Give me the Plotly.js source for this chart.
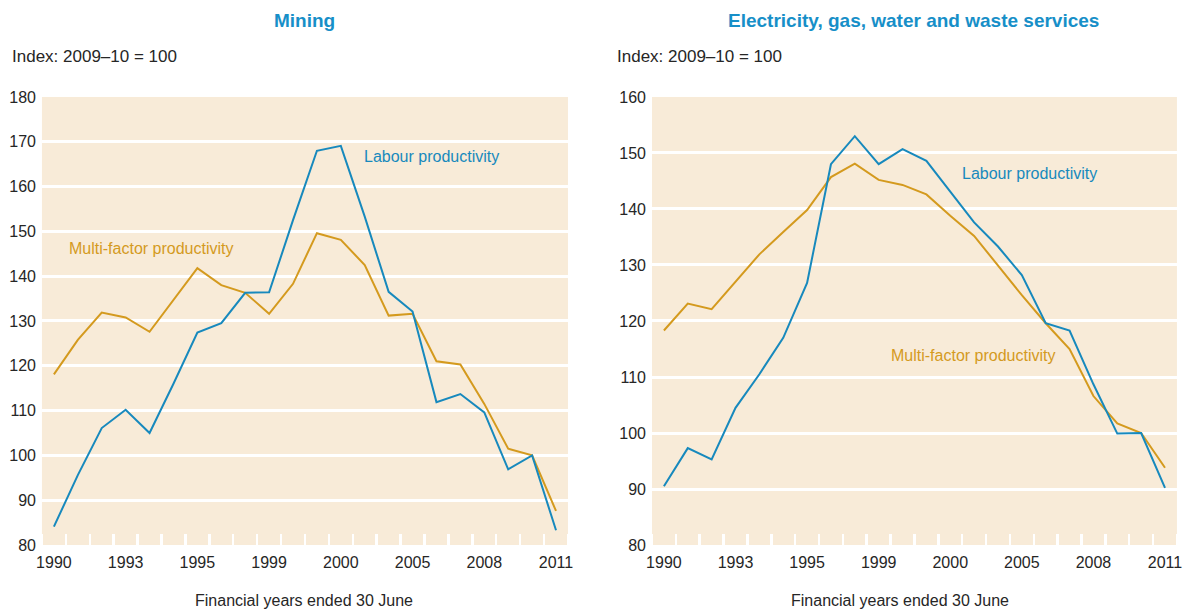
<!DOCTYPE html>
<html>
<head>
<meta charset="utf-8">
<script src="https://cdn.plot.ly/plotly-3.0.1.min.js"></script>
<style>
html,body{margin:0;padding:0;background:#fff;}
#chart{width:1185px;height:613px;}
</style>
</head>
<body>
<div id="chart"></div>
<script>
// Financial years ended 30 June (1989-90 ... 2010-11)
const years = [1990,1991,1992,1993,1994,1995,1996,1997,1998,1999,2000,2001,2002,2003,2004,2005,2006,2007,2008,2009,2010,2011];
// Tick labels as printed on the original chart
const tickYears = [1990,1993,1996,1999,2002,2005,2008,2011];
const tickLabels = ['1990','1993','1995','1999','2000','2005','2008','2011'];

// Mining (Index: 2009-10 = 100)
const miningLabour = [84.1,95.6,106.1,110.2,105.0,116.0,127.4,129.5,136.3,136.4,152.5,168.0,169.1,153.3,136.5,132.1,111.9,113.7,109.6,96.9,100.0,83.3];
const miningMFP    = [118.1,125.8,131.9,130.8,127.6,134.8,141.8,138.0,136.3,131.6,138.3,149.6,148.1,142.5,131.2,131.6,121.0,120.3,111.5,101.5,100.0,87.6];

// Electricity, gas, water and waste services (Index: 2009-10 = 100)
const elecLabour = [90.5,97.3,95.3,104.5,110.5,117.0,126.8,148.0,153.0,148.0,150.7,148.6,143.1,137.6,133.3,128.2,119.6,118.3,108.7,99.9,100.0,90.2];
const elecMFP    = [118.3,123.1,122.1,127.1,131.9,135.9,139.8,145.7,148.1,145.2,144.3,142.6,138.8,135.2,129.8,124.6,119.6,115.0,106.6,101.7,100.0,93.8];

const BLUE = '#1789bd';
const ORANGE = '#d49a1e';
const TITLEBLUE = '#178fc8';
const TEXT = '#262626';
const BG = '#f8ebd8';
const FONT = '"Liberation Sans", Arial, sans-serif';

function line(x, y, color, xa, ya, name) {
  return {x: x, y: y, type: 'scatter', mode: 'lines', name: name,
          line: {color: color, width: 2}, xaxis: xa, yaxis: ya, hoverinfo: 'x+y'};
}

const traces = [
  line(years, miningMFP, ORANGE, 'x', 'y', 'Multi-factor productivity'),
  line(years, miningLabour, BLUE, 'x', 'y', 'Labour productivity'),
  line(years, elecMFP, ORANGE, 'x2', 'y2', 'Multi-factor productivity'),
  line(years, elecLabour, BLUE, 'x2', 'y2', 'Labour productivity')
];

function xax(domain, anchor) {
  return {
    domain: domain, anchor: anchor, range: [1989.5, 2011.5],
    tickmode: 'array', tickvals: tickYears, ticktext: tickLabels,
    ticks: '', showgrid: false, zeroline: false, showline: false,
    tickfont: {family: FONT, size: 16, color: TEXT},
    ticklabelstandoff: 6, ticklabeloverflow: 'allow',
    minor: {tick0: 1989.5, dtick: 1, ticks: 'inside', ticklen: 11, tickwidth: 2.5, tickcolor: '#ffffff', showgrid: false}
  };
}
function yax(domain, anchor, range, dtick) {
  return {
    domain: domain, anchor: anchor, range: range, dtick: dtick, tick0: 0,
    showgrid: true, gridcolor: '#ffffff', gridwidth: 3, zeroline: false, showline: false,
    ticks: '', tickfont: {family: FONT, size: 16, color: TEXT}, ticklabelstandoff: 5,
    ticklabeloverflow: 'allow'
  };
}

const layout = {
  width: 1185, height: 613,
  margin: {l: 0, r: 0, t: 0, b: 0},
  paper_bgcolor: '#ffffff', plot_bgcolor: BG,
  showlegend: false,
  xaxis: xax([0.0354, 0.4793], 'y'),
  yaxis: yax([0.1109, 0.8418], 'x', [80, 180], 10),
  xaxis2: xax([0.5502, 0.9932], 'y2'),
  yaxis2: yax([0.1109, 0.8418], 'x2', [80, 160], 10),
  annotations: [
    {text: '<b>Mining</b>', xref: 'paper', yref: 'paper', x: 304/1185, y: 1 - 20/613, xanchor: 'center', yanchor: 'middle', showarrow: false, font: {family: FONT, size: 19, color: TITLEBLUE}},
    {text: '<b>Electricity, gas, water and waste services</b>', xref: 'paper', yref: 'paper', x: 913/1185, y: 1 - 20/613, xanchor: 'center', yanchor: 'middle', showarrow: false, font: {family: FONT, size: 19, color: TITLEBLUE}},
    {text: 'Index: 2009–10 = 100', xref: 'paper', yref: 'paper', x: 10/1185, y: 1 - 57/613, xanchor: 'left', yanchor: 'middle', showarrow: false, font: {family: FONT, size: 17, color: TEXT}},
    {text: 'Index: 2009–10 = 100', xref: 'paper', yref: 'paper', x: 615/1185, y: 1 - 57/613, xanchor: 'left', yanchor: 'middle', showarrow: false, font: {family: FONT, size: 17, color: TEXT}},
    {text: 'Financial years ended 30 June', xref: 'paper', yref: 'paper', x: 304/1185, y: 1 - 600/613, xanchor: 'center', yanchor: 'middle', showarrow: false, font: {family: FONT, size: 16, color: TEXT}},
    {text: 'Financial years ended 30 June', xref: 'paper', yref: 'paper', x: 900/1185, y: 1 - 600/613, xanchor: 'center', yanchor: 'middle', showarrow: false, font: {family: FONT, size: 16, color: TEXT}},
    {text: 'Labour productivity', xref: 'paper', yref: 'paper', x: 362/1185, y: 1 - 157/613, xanchor: 'left', yanchor: 'middle', showarrow: false, font: {family: FONT, size: 16, color: BLUE}},
    {text: 'Multi-factor productivity', xref: 'paper', yref: 'paper', x: 67/1185, y: 1 - 248/613, xanchor: 'left', yanchor: 'middle', showarrow: false, font: {family: FONT, size: 16, color: ORANGE}},
    {text: 'Labour productivity', xref: 'paper', yref: 'paper', x: 960/1185, y: 1 - 173/613, xanchor: 'left', yanchor: 'middle', showarrow: false, font: {family: FONT, size: 16, color: BLUE}},
    {text: 'Multi-factor productivity', xref: 'paper', yref: 'paper', x: 889/1185, y: 1 - 355/613, xanchor: 'left', yanchor: 'middle', showarrow: false, font: {family: FONT, size: 16, color: ORANGE}}
  ]
};

Plotly.newPlot('chart', traces, layout, {displayModeBar: false, staticPlot: true});
</script>
</body>
</html>
